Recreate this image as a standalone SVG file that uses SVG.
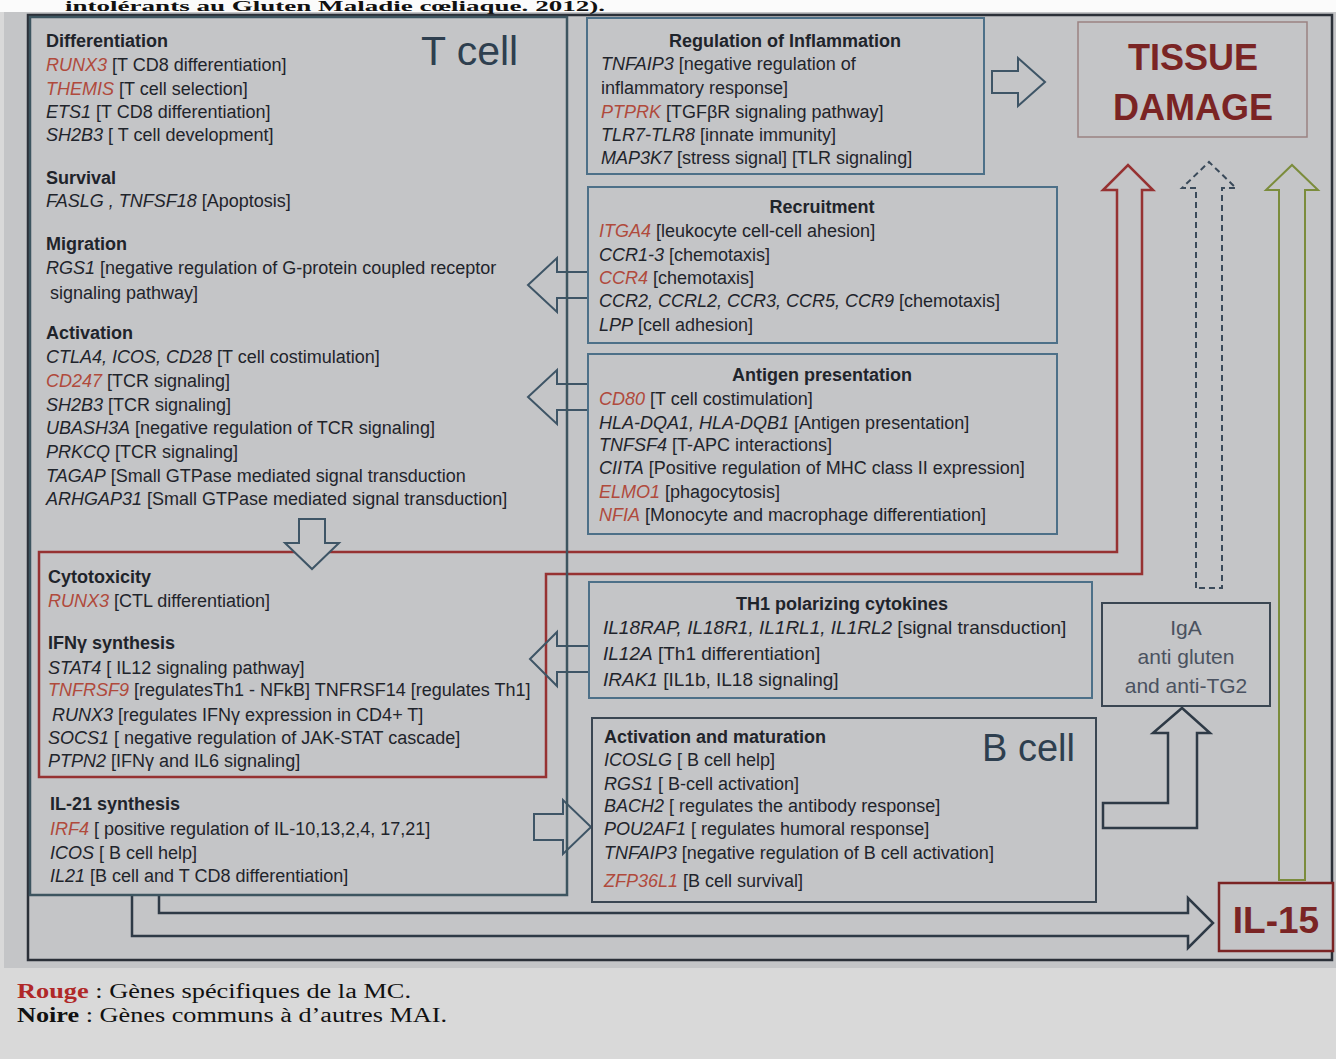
<svg xmlns="http://www.w3.org/2000/svg" width="1336" height="1059" viewBox="0 0 1336 1059">
<style>
.t{font-family:"Liberation Sans",Arial,sans-serif;font-size:18px;fill:#1f242b}
.t19{font-size:19px}
.h{font-weight:bold}
.g{font-style:italic}
.r{fill:#b04a3c}
.box{fill:none;stroke:#4d7088;stroke-width:2}
.dk{fill:none;stroke:#2e3a46;stroke-width:2.5}
.la{fill:none;stroke:#3e5566;stroke-width:2}
.ga{fill:#c4c5c7;stroke:#3e5566;stroke-width:2}
.iga{font-family:"Liberation Sans",Arial,sans-serif;font-size:21px;fill:#4a5260}
</style>
<rect width="1336" height="1059" fill="#d9d9d9"/>
<rect width="1336" height="12" fill="#fbfbfb"/>
<rect x="4" y="12" width="1332" height="956" fill="#c4c5c7"/>
<text x="65" y="11" textLength="540" lengthAdjust="spacingAndGlyphs" style="font-family:'Liberation Serif','Times New Roman',serif;font-size:14px;font-weight:bold;fill:#111">intolérants au Gluten Maladie cœliaque. 2012).</text>
<rect x="28" y="15" width="1304" height="945" fill="#c4c5c7" stroke="#2b3038" stroke-width="2.5"/>

<g id="connectors">
  <path d="M546,574 L546,777 L39,777 L39,552 L1117,552 L1117,190 L1103,190 L1128,165 L1153,190 L1142,190 L1142,574 Z" fill="none" stroke="#963232" stroke-width="2.5"/>
  <path d="M1196,588 L1196,188 L1182,188 L1209,162 L1236,188 L1222,188 L1222,588 Z" fill="none" stroke="#3a4a5a" stroke-width="2" stroke-dasharray="6 4"/>
  <path d="M1279,880 L1279,190 L1266,190 L1292,165 L1318,190 L1305,190 L1305,880 Z" fill="none" stroke="#7b8c3c" stroke-width="2"/>
  <path d="M132,895 L132,936 L1188,936 L1188,948 L1213,923 L1188,898 L1188,913 L159,913 L159,895" class="dk"/>
  <path d="M1103,803 L1168,803 L1168,733 L1153,733 L1182,708 L1210,733 L1197,733 L1197,828 L1103,828 Z" class="dk"/>
  <path d="M992,71 L1018,71 L1018,58 L1045,82 L1018,106 L1018,93 L992,93 Z" class="la"/>
  <path d="M528,285 L557,258 L557,272 L588,272 L588,298 L557,298 L557,312 Z" class="la"/>
  <path d="M528,397 L557,370 L557,384 L588,384 L588,410 L557,410 L557,424 Z" class="la"/>
  <path d="M530,659 L557,632 L557,646 L589,646 L589,672 L557,672 L557,686 Z" class="la"/>
  <path d="M534,814 L563,814 L563,800 L591,827 L563,854 L563,840 L534,840 Z" class="la"/>
  <path d="M299,519 L325,519 L325,543 L339,543 L312,569 L285,543 L299,543 Z" class="ga"/>
</g>

<g id="tcell">
  <rect x="30" y="17" width="537" height="878" fill="none" stroke="#3d5560" stroke-width="2.5"/>
  <text x="421" y="65" style="font-family:'Liberation Sans',Arial,sans-serif;font-size:41px;fill:#2e3f4f">T cell</text>
  <text class="t h" x="46" y="47">Differentiation</text>
  <text class="t" x="46" y="71"><tspan class="g r">RUNX3</tspan> [T CD8 differentiation]</text>
  <text class="t" x="46" y="95"><tspan class="g r">THEMIS</tspan> [T cell selection]</text>
  <text class="t" x="46" y="118"><tspan class="g">ETS1</tspan> [T CD8 differentiation]</text>
  <text class="t" x="46" y="141"><tspan class="g">SH2B3</tspan> [ T cell development]</text>
  <text class="t h" x="46" y="184">Survival</text>
  <text class="t" x="46" y="207"><tspan class="g">FASLG , TNFSF18</tspan> [Apoptosis]</text>
  <text class="t h" x="46" y="250">Migration</text>
  <text class="t" x="46" y="274"><tspan class="g">RGS1</tspan>  [negative regulation of G-protein coupled receptor</text>
  <text class="t" x="50" y="299">signaling pathway]</text>
  <text class="t h" x="46" y="339">Activation</text>
  <text class="t" x="46" y="363"><tspan class="g">CTLA4, ICOS, CD28</tspan> [T cell costimulation]</text>
  <text class="t" x="46" y="387"><tspan class="g r">CD247</tspan> [TCR signaling]</text>
  <text class="t" x="46" y="411"><tspan class="g">SH2B3</tspan> [TCR signaling]</text>
  <text class="t" x="46" y="434"><tspan class="g">UBASH3A</tspan> [negative regulation of TCR signaling]</text>
  <text class="t" x="46" y="458"><tspan class="g">PRKCQ</tspan> [TCR signaling]</text>
  <text class="t" x="46" y="482"><tspan class="g">TAGAP</tspan> [Small GTPase mediated signal transduction</text>
  <text class="t" x="46" y="505"><tspan class="g">ARHGAP31</tspan> [Small GTPase mediated signal transduction]</text>
</g>

<g id="cytotoxicity">
  <text class="t h" x="48" y="583">Cytotoxicity</text>
  <text class="t" x="48" y="607"><tspan class="g r">RUNX3</tspan> [CTL differentiation]</text>
  <text class="t h" x="48" y="649">IFNγ synthesis</text>
  <text class="t" x="48" y="674"><tspan class="g">STAT4</tspan> [ IL12 signaling pathway]</text>
  <text class="t" x="48" y="696"><tspan class="g r">TNFRSF9</tspan> [regulatesTh1 - NFkB] TNFRSF14 [regulates Th1]</text>
  <text class="t" x="52" y="721"><tspan class="g">RUNX3</tspan> [regulates IFNγ expression in CD4+ T]</text>
  <text class="t" x="48" y="744"><tspan class="g">SOCS1</tspan> [ negative regulation of JAK-STAT cascade]</text>
  <text class="t" x="48" y="767"><tspan class="g">PTPN2</tspan> [IFNγ and IL6 signaling]</text>
</g>

<g id="il21">
  <text class="t h" x="50" y="810">IL-21 synthesis</text>
  <text class="t" x="50" y="835"><tspan class="g r">IRF4</tspan> [ positive regulation of IL-10,13,2,4, 17,21]</text>
  <text class="t" x="50" y="859"><tspan class="g">ICOS</tspan> [ B cell help]</text>
  <text class="t" x="50" y="882"><tspan class="g">IL21</tspan> [B cell and T CD8 differentiation]</text>
</g>

<g id="inflammation">
  <rect x="587" y="18" width="397" height="156" class="box"/>
  <text class="t h" x="785" y="47" text-anchor="middle">Regulation of Inflammation</text>
  <text class="t" x="601" y="70"><tspan class="g">TNFAIP3</tspan> [negative regulation of</text>
  <text class="t" x="601" y="94">inflammatory response]</text>
  <text class="t" x="601" y="118"><tspan class="g r">PTPRK</tspan> [TGFβR signaling pathway]</text>
  <text class="t" x="601" y="141"><tspan class="g">TLR7-TLR8</tspan> [innate immunity]</text>
  <text class="t" x="601" y="164"><tspan class="g">MAP3K7</tspan> [stress signal] [TLR signaling]</text>
</g>

<g id="tissue-damage">
  <rect x="1078" y="22" width="229" height="115" fill="none" stroke="#9a8282" stroke-width="1.5"/>
  <text x="1193" y="70" text-anchor="middle" style="font-family:'Liberation Sans',Arial,sans-serif;font-size:36px;font-weight:bold;fill:#7a2424">TISSUE</text>
  <text x="1193" y="120" text-anchor="middle" style="font-family:'Liberation Sans',Arial,sans-serif;font-size:36px;font-weight:bold;fill:#7a2424">DAMAGE</text>
</g>

<g id="recruitment">
  <rect x="588" y="187" width="469" height="156" class="box"/>
  <text class="t h" x="822" y="213" text-anchor="middle">Recruitment</text>
  <text class="t" x="599" y="237"><tspan class="g r">ITGA4</tspan> [leukocyte cell-cell ahesion]</text>
  <text class="t" x="599" y="261"><tspan class="g">CCR1-3</tspan> [chemotaxis]</text>
  <text class="t" x="599" y="284"><tspan class="g r">CCR4</tspan> [chemotaxis]</text>
  <text class="t" x="599" y="307"><tspan class="g">CCR2, CCRL2, CCR3, CCR5, CCR9</tspan> [chemotaxis]</text>
  <text class="t" x="599" y="331"><tspan class="g">LPP</tspan> [cell adhesion]</text>
</g>

<g id="antigen">
  <rect x="588" y="354" width="469" height="180" class="box"/>
  <text class="t h" x="822" y="381" text-anchor="middle">Antigen presentation</text>
  <text class="t" x="599" y="405"><tspan class="g r">CD80</tspan> [T cell costimulation]</text>
  <text class="t" x="599" y="429"><tspan class="g">HLA-DQA1, HLA-DQB1</tspan> [Antigen presentation]</text>
  <text class="t" x="599" y="451"><tspan class="g">TNFSF4</tspan> [T-APC interactions]</text>
  <text class="t" x="599" y="474"><tspan class="g">CIITA</tspan> [Positive regulation of MHC class II  expression]</text>
  <text class="t" x="599" y="498"><tspan class="g r">ELMO1</tspan> [phagocytosis]</text>
  <text class="t" x="599" y="521"><tspan class="g r">NFIA</tspan> [Monocyte and macrophage differentiation]</text>
</g>

<g id="th1">
  <rect x="589" y="582" width="503" height="116" class="box"/>
  <text class="t h" x="842" y="610" text-anchor="middle">TH1 polarizing cytokines</text>
  <text class="t t19" x="603" y="634"><tspan class="g">IL18RAP, IL18R1, IL1RL1, IL1RL2</tspan> [signal transduction]</text>
  <text class="t t19" x="603" y="660"><tspan class="g">IL12A</tspan> [Th1 differentiation]</text>
  <text class="t t19" x="603" y="686"><tspan class="g">IRAK1</tspan> [IL1b, IL18 signaling]</text>
</g>

<g id="bcell">
  <rect x="592" y="718" width="504" height="184" fill="none" stroke="#3a4652" stroke-width="2"/>
  <text x="982" y="761" style="font-family:'Liberation Sans',Arial,sans-serif;font-size:38px;fill:#2e3f4f">B cell</text>
  <text class="t h" x="604" y="743">Activation and maturation</text>
  <text class="t" x="604" y="766"><tspan class="g">ICOSLG</tspan> [ B cell help]</text>
  <text class="t" x="604" y="790"><tspan class="g">RGS1</tspan> [ B-cell activation]</text>
  <text class="t" x="604" y="812"><tspan class="g">BACH2</tspan> [ regulates the antibody response]</text>
  <text class="t" x="604" y="835"><tspan class="g">POU2AF1</tspan> [ regulates humoral response]</text>
  <text class="t" x="604" y="859"><tspan class="g">TNFAIP3</tspan> [negative regulation of B cell activation]</text>
  <text class="t" x="604" y="887"><tspan class="g r">ZFP36L1</tspan> [B cell survival]</text>
</g>

<g id="iga">
  <rect x="1102" y="603" width="168" height="103" fill="none" stroke="#3a4652" stroke-width="2"/>
  <text class="iga" x="1186" y="635" text-anchor="middle">IgA</text>
  <text class="iga" x="1186" y="664" text-anchor="middle">anti gluten</text>
  <text class="iga" x="1186" y="693" text-anchor="middle">and anti-TG2</text>
</g>

<g id="il15">
  <rect x="1219" y="883" width="114" height="68" fill="#c4c5c7" stroke="#7a2424" stroke-width="2.5"/>
  <text x="1276" y="933" text-anchor="middle" style="font-family:'Liberation Sans',Arial,sans-serif;font-size:37px;font-weight:bold;fill:#7a2424">IL-15</text>
</g>

<g id="legend" style="font-family:'Liberation Serif','Times New Roman',serif;font-size:20px;fill:#111">
  <text x="17" y="998" textLength="394" lengthAdjust="spacingAndGlyphs"><tspan font-weight="bold" fill="#b02828">Rouge</tspan> : Gènes spécifiques de la MC.</text>
  <text x="17" y="1022" textLength="430" lengthAdjust="spacingAndGlyphs"><tspan font-weight="bold">Noire</tspan> : Gènes communs à d’autres MAI.</text>
</g>
</svg>
